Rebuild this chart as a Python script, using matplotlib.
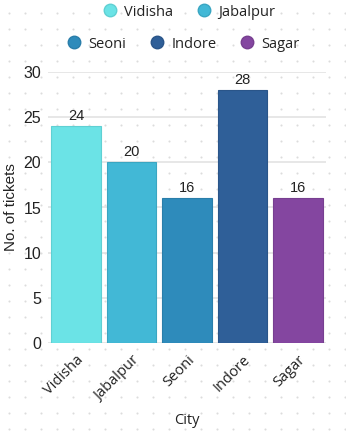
import numpy as np
import matplotlib
matplotlib.use("Agg")
import matplotlib.pyplot as plt
from matplotlib.lines import Line2D

# Ticket counts per city
cities = ["Vidisha", "Jabalpur", "Seoni", "Indore", "Sagar"]
tickets = [24, 20, 16, 28, 16]
colors = ["#6BE3E6", "#42B8D6", "#2E8BBB", "#2F5F98", "#8446A0"]
edge_colors = ["#5fd0d3", "#3aa6c2", "#2a7eaa", "#2a5589", "#773f90"]
y_ticks = [0, 5, 10, 15, 20, 25, 30]

W, H = 346, 436
fig = plt.figure(figsize=(W / 100, H / 100), dpi=100)
fig.patch.set_facecolor("white")

# dotted background pattern
bg = fig.add_axes([0, 0, 1, 1], zorder=-10)
bg.set_xlim(0, W)
bg.set_ylim(H, 0)
bg.axis("off")
gx, gy = np.meshgrid(np.arange(9.3, W, 16), np.arange(13, H, 16))
bg.scatter(gx.ravel(), gy.ravel(), s=2.2, color="#dcdcdc", linewidths=0)

ax = fig.add_axes([48.25 / W, 93 / H, 277.5 / W, 271 / H])
ax.patch.set_alpha(0)
x = np.arange(len(cities))
bars = ax.bar(x, tickets, width=0.89, color=colors, edgecolor=edge_colors,
              linewidth=0.8, zorder=3)
for xi, v in zip(x, tickets):
    ax.text(xi, v + 0.35, str(v), ha="center", va="bottom",
            fontsize=10.5, family="Liberation Sans", color="#222222")

ax.set_xlim(-0.5, 4.5)
ax.set_ylim(0, 30)
ax.set_yticks(y_ticks)
ax.set_yticklabels([str(t) for t in y_ticks], family="Liberation Sans",
                   fontsize=11.5, color="#222222")
ax.set_xticks(x)
ax.set_xticklabels(cities, rotation=45, ha="right", rotation_mode="anchor",
                   family="Open Sans", fontsize=10.5, color="#222222")
ax.tick_params(axis="both", length=0)
ax.tick_params(axis="y", pad=5)
ax.tick_params(axis="x", pad=7)
ax.grid(axis="y", color="#e0e0e0", linewidth=1.1, zorder=0)
for s in ax.spines.values():
    s.set_visible(False)

ax.set_ylabel("No. of tickets", family="Liberation Sans", fontsize=11,
              color="#222222", labelpad=4)
ax.set_xlabel("City", family="Open Sans", fontsize=10.5, color="#222222",
              labelpad=7)

def handle(i):
    return Line2D([], [], marker="o", linestyle="none", markersize=9,
                  markerfacecolor=colors[i], markeredgecolor=edge_colors[i])

leg_kw = dict(frameon=False, handletextpad=0.5, columnspacing=1.6,
              handlelength=1.0, prop={"family": "Open Sans", "size": 10.5})
leg1 = fig.legend([handle(0), handle(1)], cities[:2], ncol=2,
                  loc="center", bbox_to_anchor=(0.546, 1 - 12 / H), **leg_kw)
for t in leg1.get_texts():
    t.set_color("#222222")
leg2 = fig.legend([handle(2), handle(3), handle(4)], cities[2:], ncol=3,
                  loc="center", bbox_to_anchor=(0.529, 1 - 44 / H), **leg_kw)
for t in leg2.get_texts():
    t.set_color("#222222")

fig.savefig("out.png", dpi=100)
